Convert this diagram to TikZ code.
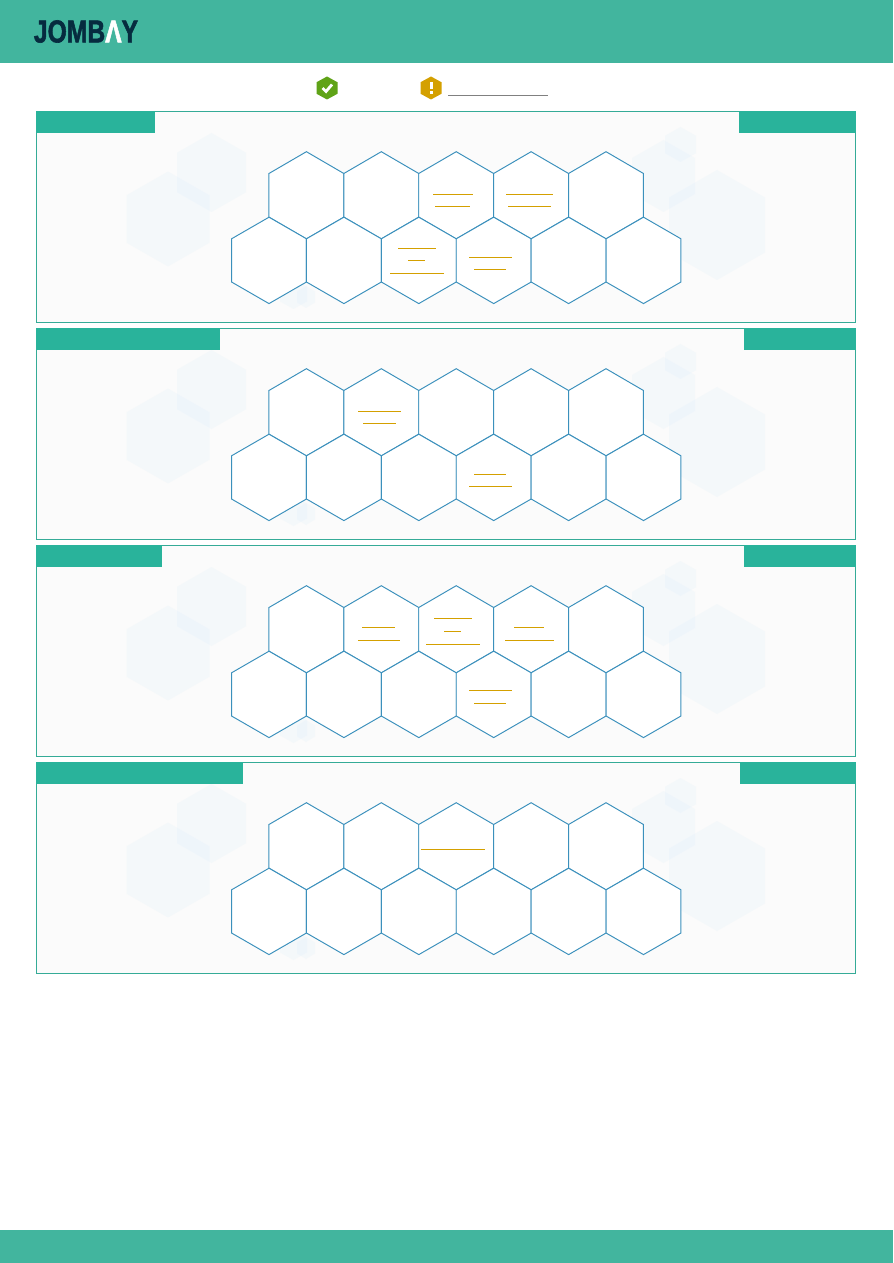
\documentclass[tikz,border=0pt]{standalone}
\usepackage{fontspec}
\newfontfamily\logofont[BoldFeatures={FakeBold=2}]{Liberation Sans}
\definecolor{bandgreen}{HTML}{42B59E}
\definecolor{tabgreen}{HTML}{29B39B}
\definecolor{frameline}{HTML}{35AB97}
\definecolor{panelgray}{HTML}{FBFBFB}
\definecolor{cellblue}{HTML}{3B90BC}
\definecolor{shadeblue}{HTML}{D6EBFA}
\definecolor{markamber}{HTML}{D4A000}
\definecolor{okgreen}{HTML}{5FA317}
\definecolor{logonavy}{HTML}{062B3F}
\newcommand{\hexat}[4]{(#1-#3,#2-#4/2)--(#1,#2-#4)--(#1+#3,#2-#4/2)--(#1+#3,#2+#4/2)--(#1,#2+#4)--(#1-#3,#2+#4/2)--cycle}
\tikzset{
  cellhex/.style={fill=white,draw=cellblue,line width=0.55pt,line join=miter},
  shadehex/.style={fill=shadeblue,opacity=0.17},
  frameline/.style={draw=frameline,fill=panelgray,line width=0.55pt},
  marktext/.style={draw=markamber,line width=0.6pt},
}
\begin{document}
\begin{tikzpicture}[x=0.02cm,y=-0.02cm]
  \useasboundingbox (0,0) rectangle (893,1263);
  % Bands
  \fill[white] (0,0) rectangle (893,1263);
  \fill[bandgreen] (0,0) rectangle (893,63);
  \fill[bandgreen] (0,1230) rectangle (893,1263);
  % Logo
  \node[anchor=center,inner sep=0pt,xscale=0.78,text=logonavy,font=\logofont\bfseries\fontsize{18}{18}\selectfont] (logo) at (86,31.5)
    {JOMB{\color{white}\char"039B}Y};
  % Legend
  \fill[okgreen] \hexat{327}{88}{10.5}{11.5};
  \draw[white,line width=1.6pt] (322.5,88)--(326,91.5)--(332,84.5);
  \fill[markamber] \hexat{431}{88}{10.5}{11.5};
  \fill[white] (429.5,82) rectangle (432.5,89.5);
  \fill[white] (429.5,91) rectangle (432.5,94);
  \draw[gray,line width=0.55pt] (448,95.5)--(548,95.5);
  % Panels
  \foreach \off/\ltab/\rtab in {0/155/739,217/220/744,434/162/744,651/243/740}{
    \begin{scope}[shift={(0,\off)}]
      \draw[frameline] (36.5,111.5) rectangle (855.5,322.5);
      \fill[tabgreen] (36,111) rectangle (\ltab,133);
      \fill[tabgreen] (\rtab,111) rectangle (856,133);
      % Faint hexagons
      \fill[shadehex] \hexat{168}{219}{41.5}{47.5};
      \fill[shadehex] \hexat{211.5}{172.5}{34.5}{39.5};
      \fill[shadehex] \hexat{663.5}{176}{31.5}{36};
      \fill[shadehex] \hexat{680.5}{144.5}{15.5}{17.5};
      \fill[shadehex] \hexat{717}{225}{48}{55};
      \fill[shadehex] \hexat{293.5}{294}{13.5}{15};
      \fill[shadehex] \hexat{306}{297}{9}{11};
      % Cells
      \foreach \cx in {306.4,381.3,456.2,531.1,606}
        \draw[cellhex] \hexat{\cx}{195.3}{37.45}{43.6};
      \foreach \cx in {269,343.9,418.8,493.7,568.6,643.5}
        \draw[cellhex] \hexat{\cx}{260.4}{37.45}{43.2};
    \end{scope}
  }
  % Marks, panel by panel
  \foreach \my/\mfrom/\mto in {
    194.4/433/473, 206.4/435/470, 194.4/506/553, 206.4/508/551,
    248.4/398/436, 260.4/408/425, 273.4/390/444, 257.4/469/512, 269.4/474/506,
    411.4/358/401, 423.4/363/396, 474.4/474/506, 486.4/469/512,
    627.4/362/395, 640.4/358/400, 618.4/434/472, 631.4/444/461, 644.4/426/480,
    627.4/514/544, 640.4/505/554, 690.4/469/512, 703.4/474/506,
    849.4/421/485}
    \draw[marktext] (\mfrom,\my)--(\mto,\my);
\end{tikzpicture}
\end{document}
